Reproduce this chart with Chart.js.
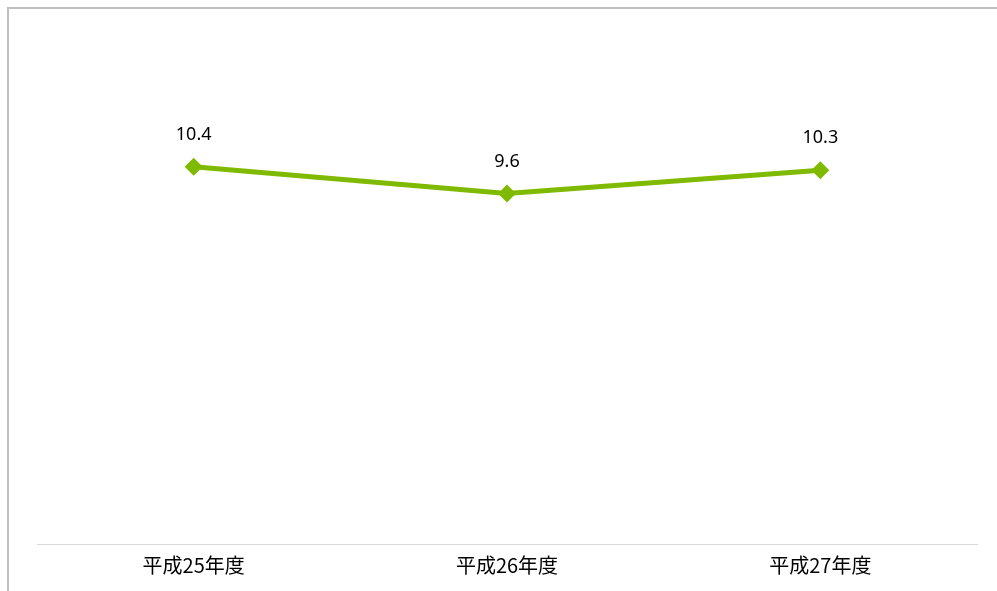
<!DOCTYPE html>
<html>
<head>
<meta charset="utf-8">
<script src="https://cdn.jsdelivr.net/npm/chart.js@4.4.1/dist/chart.umd.min.js"></script>
<style>
  html, body { margin: 0; padding: 0; background: #fff; overflow: hidden; }
  #wrap { width: 997px; height: 591px; }
</style>
</head>
<body>
<div id="wrap"><canvas id="myChart"></canvas></div>
<script>
const categories = ['平成25年度', '平成26年度', '平成27年度'];
const rateValues = [10.4, 9.6, 10.3];
const valueLabels = ['10.4', '9.6', '10.3'];

// frame around the chart (top and left edges show in the picture)
const framePlugin = {
    id: 'frame',
    beforeDraw(chart) {
        const c = chart.ctx;
        c.save();
        c.strokeStyle = '#bfbfbf';
        c.lineWidth = 2;
        c.strokeRect(8, 8, 1400, 1400);
        c.restore();
    }
};

// value labels above each point
const labelPlugin = {
    id: 'pointLabels',
    afterDatasetsDraw(chart) {
        const c = chart.ctx;
        const meta = chart.getDatasetMeta(0);
        c.save();
        c.font = '18px "Noto Sans", sans-serif';
        c.fillStyle = '#000';
        c.textAlign = 'center';
        c.textBaseline = 'alphabetic';
        meta.data.forEach(function(pt, i) {
            c.fillText(valueLabels[i], pt.x, pt.y - 27);
        });
        c.restore();
    }
};

document.addEventListener("DOMContentLoaded", function() {
    const ctx = document.getElementById('myChart').getContext('2d');

    const data = {
        labels: categories,
        datasets: [{
            label: 'rate',
            data: rateValues,
            borderColor: '#7fba00',
            backgroundColor: '#7fba00',
            borderWidth: 5,
            pointStyle: 'rectRot',
            pointRadius: 9,
            pointHoverRadius: 9,
            pointBorderWidth: 0,
            tension: 0,
            fill: false
        }]
    };

    const options = {
        responsive: true,
        maintainAspectRatio: false,
        animation: false,
        layout: {
            padding: { left: 37, right: 20, top: 40, bottom: 5 }
        },
        scales: {
            x: {
                offset: true,
                grid: {
                    display: false,
                    drawTicks: false,
                    tickLength: 0
                },
                border: {
                    display: true,
                    color: '#d9d9d9',
                    width: 1
                },
                ticks: {
                    color: '#000',
                    padding: 9,
                    maxRotation: 0,
                    font: { family: '"Noto Sans CJK JP", sans-serif', size: 20 }
                }
            },
            y: {
                display: false,
                min: -0.9,
                max: 14.2
            }
        },
        plugins: {
            legend: { display: false },
            tooltip: { enabled: false }
        }
    };

    new Chart(ctx, {
        type: 'line',
        data: data,
        options: options,
        plugins: [framePlugin, labelPlugin]
    });
});
</script>
</body>
</html>
